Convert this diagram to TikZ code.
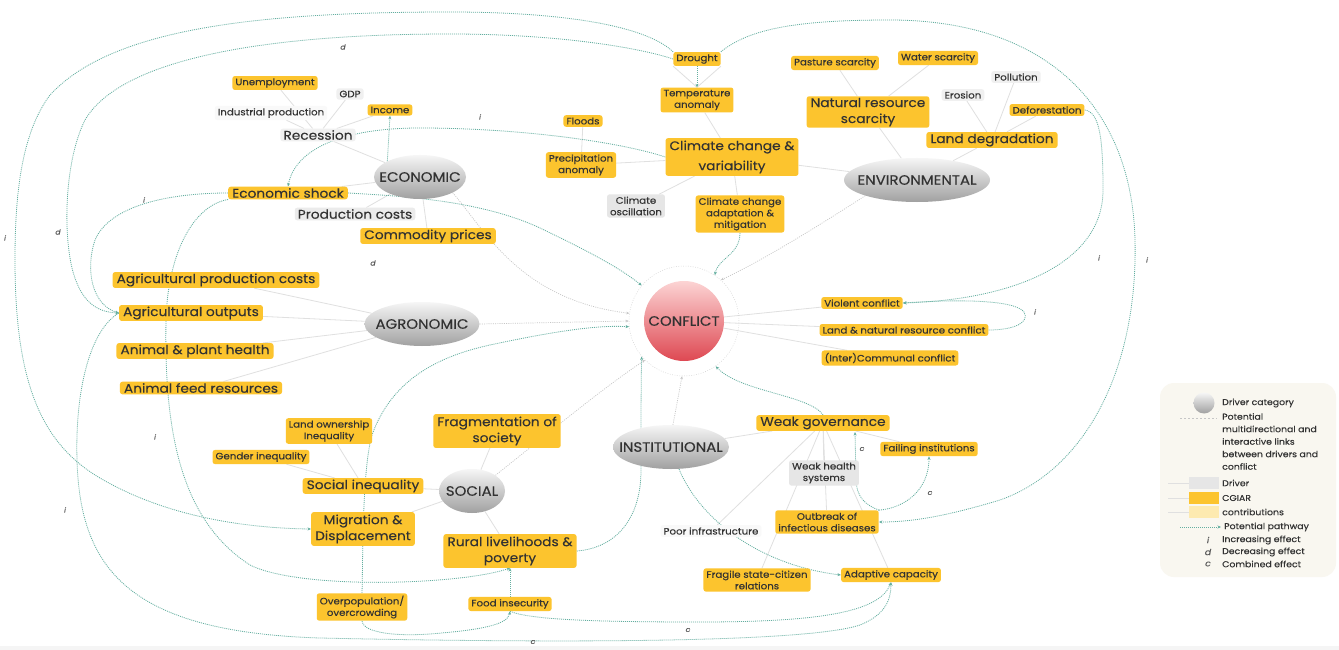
\documentclass[tikz,border=0pt]{standalone}
\usepackage{fontspec}
\setmainfont{Poppins}[FakeStretch=1.1, FakeBold=0.25]
\usetikzlibrary{shapes.geometric,arrows.meta,backgrounds}
\definecolor{cgy}{RGB}{252,196,46}
\definecolor{cgylt}{RGB}{253,234,176}
\definecolor{txt}{RGB}{50,50,50}
\definecolor{drv}{RGB}{230,230,230}
\definecolor{drvlt}{RGB}{240,240,240}
\definecolor{drvvl}{RGB}{249,249,249}
\definecolor{pathc}{RGB}{100,175,160}
\definecolor{treec}{RGB}{224,224,224}
\definecolor{linkc}{RGB}{198,198,198}
\definecolor{effc}{RGB}{90,90,90}
\definecolor{legbg}{RGB}{249,247,240}
\definecolor{catT}{RGB}{246,246,246}
\definecolor{catB}{RGB}{160,160,160}
\definecolor{cfT}{RGB}{252,212,212}
\definecolor{cfB}{RGB}{222,72,82}
\newcommand\fS{\fontsize{9.3}{11.5}\selectfont}
\newcommand\fL{\fontsize{12.5}{16}\selectfont}
\newcommand\fC{\fontsize{13.6}{15}\selectfont}
\newcommand\fE{\fontsize{7}{8}\selectfont\itshape}
\newcommand\fEL{\fontsize{8.5}{9}\selectfont\itshape}
\newcommand\fG{\fontsize{8.5}{12.5}\selectfont}
\tikzset{
  box/.style={rounded corners=2.5pt, text=txt, align=center, inner xsep=3pt, inner ysep=2.3pt, font=\fS},
  yel/.style={box, fill=cgy},
  yelL/.style={box, fill=cgy, font=\fL, inner xsep=4pt, inner ysep=1.5pt},
  gry/.style={box, fill=drv},
  lg/.style={box, fill=drvlt},
  lgL/.style={box, fill=drvlt, font=\fL, inner ysep=1.5pt},
  vl/.style={box, fill=drvvl},
  cat/.style={ellipse, inner xsep=-45pt, inner ysep=-12pt, minimum height=44pt, top color=catT, bottom color=catB, text=txt, font=\fC},
  confl/.style={circle, minimum size=80pt, inner sep=0pt, top color=cfT, bottom color=cfB, text=txt, font=\fC},
  ringst/.style={circle, minimum size=110pt, inner sep=0pt, draw=linkc!80, dash pattern=on 0.8pt off 1.6pt, line width=0.5pt},
  tree/.style={draw=treec, line width=0.8pt},
  link/.style={draw=linkc, line width=0.7pt, dash pattern=on 1pt off 1.2pt, -{Stealth[length=3pt,width=2.6pt]}},
  pway/.style={draw=pathc, line width=0.8pt, dash pattern=on 1pt off 1pt, -{Stealth[length=3.5pt,width=3pt]}},
  eff/.style={font=\fE, text=effc, inner sep=0pt},
  legt/.style={font=\fG, text=txt, anchor=west, inner sep=0pt, align=left},
}
\begin{document}
\begin{tikzpicture}[x=1pt,y=-1pt]
\useasboundingbox (0,0) rectangle (1339,650);
% ---------------- ECONOMIC
\node[yel] (unemp) at (275,83) {Unemployment};
\node[lg] (gdp) at (350,94) {GDP};
\node[vl] (indprod) at (271,113) {Industrial production};
\node[yel] (income) at (390,110) {Income};
\node[lgL] (recess) at (318,135) {Recession};
\node[cat, minimum width=92pt] (econ) at (420,177) {ECONOMIC};
\node[yelL] (shock) at (288,193) {Economic shock};
\node[lgL, fill=drv!80] (prodc) at (355,214) {Production costs};
\node[yelL] (comm) at (428,236) {Commodity prices};
% ---------------- CLIMATE
\node[yel] (drought) at (697,59) {Drought};
\node[yel] (temp) at (697,100) {Temperature\\anomaly};
\node[yel] (floods) at (583,121) {Floods};
\node[yel] (precip) at (581,165) {Precipitation\\anomaly};
\node[yelL, font=\fontsize{12.5}{20}\selectfont, inner ysep=2.5pt] (clim) at (732,157) {Climate change \&\\variability};
\node[gry] (osc) at (636,206) {Climate\\oscillation};
\node[yel] (adapt) at (740,214) {Climate change\\adaptation \&\\mitigation};
% ---------------- ENVIRONMENTAL
\node[yel] (pasture) at (835,63) {Pasture scarcity};
\node[yel] (water) at (938,58) {Water scarcity};
\node[lg] (pollution) at (1016,77) {Pollution};
\node[lg] (erosion) at (963,95) {Erosion};
\node[yelL] (nrs) at (868,112) {Natural resource\\scarcity};
\node[yel] (defor) at (1047,110) {Deforestation};
\node[yelL] (landdeg) at (992,140) {Land degradation};
\node[cat, minimum width=146pt] (env) at (917,180) {ENVIRONMENTAL};
% ---------------- AGRONOMIC
\node[yelL] (agcost) at (216,280) {Agricultural production costs};
\node[yelL] (agout) at (191,313) {Agricultural outputs};
\node[yelL] (animal) at (195,351) {Animal \& plant health};
\node[yelL] (feed) at (201,388) {Animal feed resources};
\node[cat, minimum width=115pt] (agro) at (422,324) {AGRONOMIC};
% ---------------- CONFLICT
\node[ringst] (ring) at (684,321) {};
\node[confl] (conflict) at (684,321) {CONFLICT};
\node[yel] (violent) at (862,303) {Violent conflict};
\node[yel] (landres) at (904,330) {Land \& natural resource conflict};
\node[yel] (communal) at (890,358) {(Inter)Communal conflict};
% ---------------- SOCIAL
\node[yel] (landown) at (329,431) {Land ownership\\Inequality};
\node[yel] (gender) at (261,457) {Gender inequality};
\node[yelL, inner ysep=2.5pt] (frag) at (497,431) {Fragmentation of\\society};
\node[yelL] (socineq) at (363,486) {Social inequality};
\node[cat, minimum width=66pt] (social) at (472,491) {SOCIAL};
\node[yelL, inner ysep=2.5pt] (migr) at (363,529) {Migration \&\\Displacement};
\node[yelL, inner ysep=2.5pt] (rural) at (510,551) {Rural livelihoods \&\\poverty};
\node[yel] (overpop) at (362,607) {Overpopulation/\\overcrowding};
\node[yel] (food) at (510,604) {Food insecurity};
% ---------------- INSTITUTIONAL
\node[cat, minimum width=116pt] (inst) at (671,447) {INSTITUTIONAL};
\node[yelL] (weakgov) at (823,423) {Weak governance};
\node[yel] (failing) at (929,449) {Failing institutions};
\node[gry] (weakhealth) at (824,473) {Weak health\\systems};
\node[vl] (poorinf) at (711,531) {Poor infrastructure};
\node[yel] (outbreak) at (827,522) {Outbreak of\\infectious diseases};
\node[yel] (fragile) at (757,580) {Fragile state-citizen\\relations};
\node[yel] (adaptc) at (891,575) {Adaptive capacity};
\coordinate (wgc) at (855,432);
% ---------------- effect labels
\node[eff] (e1) at (343,47) {d};
\node[eff] (e2) at (5,238) {i};
\node[eff] (e3) at (58,232) {d};
\node[eff] (e4) at (144,200) {i};
\node[eff] (e5) at (480,117) {i};
\node[eff] (e6) at (373,263) {d};
\node[eff] (e7) at (155,437) {i};
\node[eff] (e8) at (65,510) {i};
\node[eff] (e9) at (1099,258) {i};
\node[eff] (e10) at (1147,260) {i};
\node[eff] (e11) at (1035,312) {i};
\node[eff] (e12) at (862,449) {c};
\node[eff] (e13) at (930,493) {c};
\node[eff] (e14) at (688,630) {c};
\node[eff] (e15) at (533,642) {c};
% ---------------- legend
\node[fill=legbg, rounded corners=14pt, minimum width=176pt, minimum height=194pt, inner sep=0pt] (legend) at (1248,480) {};
\node[circle, minimum size=21pt, inner sep=0pt, top color=catT, bottom color=catB] (lgcirc) at (1204,403) {};
\node[legt] (lgt1) at (1222,403) {Driver category};
\coordinate (ldA) at (1180,418); \coordinate (ldB) at (1217,418);
\draw[draw=linkc, dash pattern=on 2pt off 2pt, line width=0.6pt] (ldA) -- (ldB);
\node[legt, anchor=north west] (lgt2) at (1222,413) {Potential\\multidirectional and\\interactive links\\between drivers and\\conflict};
\node[fill=drv, minimum width=30pt, minimum height=12pt, inner sep=0pt] (lgdrv) at (1204,483) {};
\node[fill=cgy, minimum width=30pt, minimum height=12pt, inner sep=0pt] (lgcg) at (1204,498) {};
\node[fill=cgylt, minimum width=30pt, minimum height=12pt, inner sep=0pt] (lgcgl) at (1204,512) {};
\coordinate (lgl1) at (1168,483); \coordinate (lgl2) at (1168,498); \coordinate (lgl3) at (1168,512);
\draw[tree] (lgl1) -- (lgdrv.west);
\draw[tree] (lgl2) -- (lgcg.west);
\draw[tree] (lgl3) -- (lgcgl.west);
\node[legt] (lgt3) at (1222,483) {Driver};
\node[legt] (lgt4) at (1222,498) {CGIAR};
\node[legt] (lgt5) at (1222,512) {contributions};
\coordinate (lpA) at (1180,527); \coordinate (lpB) at (1221,527);
\draw[pway] (lpA) -- (lpB);
\node[legt] (lgt6) at (1224,527) {Potential pathway};
\node[eff, font=\fEL] (lgi) at (1208,540) {i};
\node[eff, font=\fEL] (lgd) at (1208,552) {d};
\node[eff, font=\fEL] (lgc) at (1208,564) {c};
\node[legt] (lgt7) at (1222,540) {Increasing effect};
\node[legt] (lgt8) at (1222,552) {Decreasing effect};
\node[legt] (lgt9) at (1222,564) {Combined effect};
% ================= background connectors
\begin{scope}[on background layer]
\fill[white] (0,0) rectangle (1339,650);
\fill[black!4] (0,646) rectangle (1339,650);
% tree lines
\draw[tree] (econ) -- (recess); \draw[tree] (econ) -- (shock);
\draw[tree] (econ) -- (prodc); \draw[tree] (econ) -- (comm);
\draw[tree] (recess) -- (unemp); \draw[tree] (recess) -- (gdp);
\draw[tree] (recess) -- (indprod); \draw[tree] (recess) -- (income);
\draw[tree] (env) -- (nrs); \draw[tree] (env) -- (landdeg); \draw[tree] (env) -- (clim);
\draw[tree] (nrs) -- (pasture); \draw[tree] (nrs) -- (water);
\draw[tree] (landdeg) -- (erosion); \draw[tree] (landdeg) -- (pollution); \draw[tree] (landdeg) -- (defor);
\draw[tree] (clim) -- (temp); \draw[tree] (clim) -- (precip);
\draw[tree] (clim) -- (osc); \draw[tree] (clim) -- (adapt);
\draw[tree] (precip) -- (floods);
\draw[tree] (drought.south west) -- (temp.north); \draw[tree] (drought.south east) -- (temp.north);
\draw[tree] (agro) -- (agcost); \draw[tree] (agro) -- (agout);
\draw[tree] (agro) -- (animal); \draw[tree] (agro) -- (feed);
\draw[tree] (social) -- (frag); \draw[tree] (social) -- (socineq);
\draw[tree] (social) -- (migr); \draw[tree] (social) -- (rural);
\draw[tree] (socineq) -- (landown); \draw[tree] (socineq) -- (gender);
\draw[tree] (inst) -- (weakgov);
\draw[tree] (weakgov) -- (poorinf); \draw[tree] (weakgov) -- (fragile);
\draw[tree] (weakgov) -- (weakhealth); \draw[tree] (weakgov) -- (outbreak);
\draw[tree] (weakgov) -- (adaptc); \draw[tree] (weakgov) -- (failing);
\draw[tree] (conflict) -- (violent); \draw[tree] (conflict) -- (landres); \draw[tree] (conflict) -- (communal);
% category links to conflict
\draw[link] (agro.east) -- (ring.west);
\draw[link] (econ.south east) .. controls (485,230) and (520,300) .. (ring.172);
\draw[link] (social.north east) .. controls (540,440) and (600,390) .. (ring.225);
\draw[link] (inst.85) -- (ring.268);
\draw[link] (env.south west) .. controls (820,225) and (760,262) .. (ring.48);
% pathways
\draw[pway] (drought.north west) .. controls (645,25) and (560,12) .. (450,12) .. controls (250,12) and (110,30) .. (50,95) .. controls (20,135) and (15,200) .. (15,260) .. controls (15,380) and (40,440) .. (95,475) .. controls (160,515) and (240,528) .. (migr.west);
\draw[pway] (drought.west) .. controls (640,48) and (560,34) .. (450,34) .. controls (260,34) and (120,60) .. (85,120) .. controls (65,160) and (63,230) .. (72,268) .. controls (80,300) and (95,312) .. (agout.west);
\draw[pway] (shock.west) .. controls (170,193) and (110,205) .. (95,240) .. controls (85,270) and (92,305) .. (agout.west);
\draw[pway] (shock.south west) .. controls (195,205) and (168,250) .. (166,320) .. controls (164,430) and (180,520) .. (250,565) .. controls (300,590) and (460,585) .. (rural.south);
\draw[pway] (agout.west) .. controls (90,330) and (75,390) .. (77,460) .. controls (80,570) and (130,632) .. (320,638) .. controls (500,642) and (800,645) .. (860,625) .. controls (885,615) and (891,600) .. (adaptc.south);
\draw[pway] (overpop.south) .. controls (362,630) and (385,637) .. (430,634) .. controls (480,630) and (508,625) .. (food.south);
\draw[pway] (food.south) .. controls (530,620) and (600,622) .. (700,622) .. controls (820,622) and (880,612) .. (adaptc.south);
\draw[pway] (food.north) -- (rural.south);
\draw[pway] (overpop.north) .. controls (363,560) and (362,470) .. (372,435) .. controls (390,385) and (430,358) .. (490,345) .. controls (560,330) and (600,325) .. (ring.186);
\draw[pway] (shock.east) .. controls (400,196) and (480,200) .. (540,228) .. controls (590,252) and (620,268) .. (ring.140);
\draw[pway] (clim.west) .. controls (620,142) and (520,128) .. (420,128) .. controls (340,128) and (295,150) .. (shock.north);
\draw[pway] (econ.north west) -- (income.south);
\draw[pway] (drought.south) -- (temp.north);
\draw[pway] (adapt.south) .. controls (740,255) and (718,258) .. (ring.56);
\draw[pway] (defor.east) .. controls (1100,112) and (1103,140) .. (1103,190) .. controls (1103,265) and (1010,300) .. (violent.east);
\draw[pway] (drought.north east) .. controls (750,28) and (800,20) .. (890,20) .. controls (1050,20) and (1132,110) .. (1135,240) .. controls (1138,370) and (1085,470) .. (1000,500) .. controls (950,515) and (915,522) .. (outbreak.east);
\draw[pway] (landres.east) .. controls (1015,330) and (1030,322) .. (1024,312) .. controls (1015,300) and (960,299) .. (violent.east);
\draw[pway] (weakgov.north) .. controls (810,395) and (740,392) .. (ring.-55);
\draw[pway] (rural.east) .. controls (615,548) and (641,520) .. (641,470) .. controls (641,420) and (641,385) .. (ring.220);
\draw[pway] (outbreak.north east) .. controls (866,505) and (856,498) .. (856,478) -- (wgc);
\draw[pway] (outbreak.north east) .. controls (905,508) and (929,490) .. (failing.south);
\draw[pway] (inst.-70) .. controls (700,520) and (760,565) .. (adaptc.west);
\end{scope}
\end{tikzpicture}
\end{document}
